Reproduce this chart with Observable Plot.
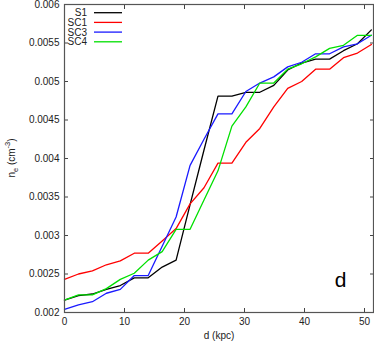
<!DOCTYPE html>
<html>
<head>
<meta charset="utf-8">
<script src="https://cdn.jsdelivr.net/npm/d3@7"></script>
<script src="https://cdn.jsdelivr.net/npm/@observablehq/plot@0.6"></script>
<style>
  html, body { margin: 0; padding: 0; background: #fff; }
  svg { display: block; }
</style>
</head>
<body>
<div id="chart"></div>
<script>
const dist = [0, 2.33, 4.65, 6.98, 9.3, 11.63, 13.95, 16.28, 18.6, 20.93, 23.25, 25.58,
  27.9, 30.23, 32.55, 34.88, 37.2, 39.53, 41.85, 44.18, 46.5, 48.83, 51.15];

const S1 = [0.00216, 0.00222, 0.00224, 0.00230, 0.00235, 0.00245, 0.00245, 0.00259,
  0.00268, 0.00340, 0.00411, 0.00481, 0.00481, 0.00486, 0.00486, 0.00495, 0.00515,
  0.00524, 0.00529, 0.00529, 0.00540, 0.00549, 0.00567];
const SC1 = [0.00243, 0.00250, 0.00254, 0.00262, 0.00267, 0.00277, 0.00277, 0.00293,
  0.00309, 0.00341, 0.00362, 0.00394, 0.00394, 0.00421, 0.00439, 0.00467, 0.00491,
  0.00500, 0.00516, 0.00516, 0.00531, 0.00537, 0.00548];
const SC3 = [0.00204, 0.00210, 0.00214, 0.00225, 0.00230, 0.00248, 0.00248, 0.00286,
  0.00324, 0.00391, 0.00425, 0.00458, 0.00458, 0.00487, 0.00498, 0.00506, 0.00519,
  0.00525, 0.00536, 0.00536, 0.00545, 0.00549, 0.00560];
const SC4 = [0.00216, 0.00223, 0.00223, 0.00231, 0.00243, 0.00251, 0.00268, 0.00279,
  0.00308, 0.00308, 0.00346, 0.00384, 0.00442, 0.00467, 0.00498, 0.00498, 0.00516,
  0.00523, 0.00532, 0.00543, 0.00547, 0.00560, 0.00560];

const seriesNames = ["S1", "SC1", "SC3", "SC4"];
const seriesColors = ["#000000", "#ff0000", "#1a1aff", "#00e000"];
const xTicks = [0, 10, 20, 30, 40, 50];
const yTicks = [0.002, 0.0025, 0.003, 0.0035, 0.004, 0.0045, 0.005, 0.0055, 0.006];
const panelLabel = "d";

const seriesValues = [S1, SC1, SC3, SC4];
const rows = seriesNames.flatMap((name, k) =>
  seriesValues[k].map((v, i) => ({series: name, d: dist[i], v})));

const font = "'Liberation Sans', Arial, sans-serif";
const tickColor = "#444";

const svg = Plot.plot({
  width: 374,
  height: 342,
  marginLeft: 64,
  marginRight: 1,
  marginTop: 4,
  marginBottom: 30,
  style: {fontFamily: font, fontSize: "10px", color: "#222", background: "#fff"},
  x: {domain: [0, 51.5]},
  y: {domain: [0.002, 0.006]},
  color: {domain: seriesNames, range: seriesColors},
  marks: [
    Plot.axisX(xTicks, {anchor: "bottom", tickSize: 0, tickPadding: 5, label: null, fontSize: 10}),
    Plot.axisY(yTicks, {anchor: "left", tickSize: 0, tickPadding: 5, label: null, fontSize: 10,
      tickFormat: d => String(d)}),
    Plot.axisX(xTicks, {anchor: "bottom", tickSize: -4, tickFormat: () => "", label: null, stroke: tickColor}),
    Plot.axisX(xTicks, {anchor: "top", tickSize: -4, tickFormat: () => "", label: null, stroke: tickColor}),
    Plot.axisY(yTicks, {anchor: "left", tickSize: -4, tickFormat: () => "", label: null, stroke: tickColor}),
    Plot.axisY(yTicks, {anchor: "right", tickSize: -4, tickFormat: () => "", label: null, stroke: tickColor}),
    Plot.line(rows, {x: "d", y: "v", z: "series", stroke: "series", strokeWidth: 1.3}),
    Plot.text([panelLabel], {frameAnchor: "bottom-right", dx: -27, dy: -26, fontSize: 21,
      fontWeight: "normal", textAnchor: "end", lineAnchor: "bottom", fill: "#000"}),
    Plot.text(["d (kpc)"], {frameAnchor: "bottom", dy: 26, fontSize: 10, fill: "#222"}),
    Plot.frame({stroke: "#555", strokeWidth: 1.2})
  ]
});

// legend + rotated y label with sub/superscripts
const sel = d3.select(svg);
const lg = sel.append("g").attr("font-family", font).attr("font-size", 10);
seriesNames.forEach((name, k) => {
  const y = 12.7 + k * 9.7;
  lg.append("text").attr("x", 87).attr("y", y).attr("dy", "0.35em")
    .attr("text-anchor", "end").attr("fill", "#222").text(name);
  lg.append("line").attr("x1", 94).attr("x2", 122).attr("y1", y).attr("y2", y)
    .attr("stroke", seriesColors[k]).attr("stroke-width", 1.3);
});

const yl = sel.append("text")
  .attr("transform", "translate(15,158) rotate(-90)")
  .attr("text-anchor", "middle")
  .attr("font-family", font).attr("font-size", 10).attr("fill", "#222");
yl.append("tspan").text("n");
yl.append("tspan").attr("font-size", 7.5).attr("dy", 3).text("e");
yl.append("tspan").attr("dy", -3).text(" (cm");
yl.append("tspan").attr("font-size", 7.5).attr("dy", -5).text("-3");
yl.append("tspan").attr("dy", 5).text(")");

document.getElementById("chart").appendChild(svg);
</script>
</body>
</html>
